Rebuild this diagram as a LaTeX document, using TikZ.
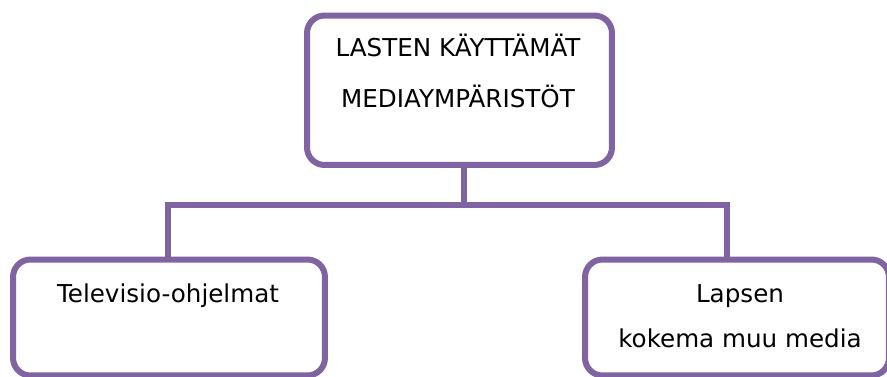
\documentclass[tikz,border=0pt]{standalone}
\usepackage{fontspec}
\setmainfont{DejaVu Sans}
\usetikzlibrary{positioning}
\definecolor{boxpurple}{RGB}{128,100,162}
\tikzset{box/.style={draw=boxpurple,line width=0.12cm,rounded corners=0.35cm,fill=white,inner sep=0pt}}
\tikzset{link/.style={draw=boxpurple,line width=0.12cm}}
\tikzset{l/.style={font=\fontsize{14}{28.5}\selectfont,align=center,inner sep=0pt}}

\begin{document}
\begin{tikzpicture}[x=0.02cm,y=-0.02cm]
  \useasboundingbox (0,0) rectangle (887,376);
  \node[box,minimum width=6.1cm,minimum height=2.99cm] (top) at (459.5,90.25) {};
  \node[box,minimum width=6.24cm,minimum height=2.32cm] (tv) at (169,317.5) {};
  \node[box,minimum width=6.08cm,minimum height=2.32cm] (media) at (737,317.5) {};
  \coordinate (split) at (463.5,205);
  \draw[link] (top.south -| split) -- (split);
  \draw[link] ([xshift=-0.03cm]tv.north) |- (split) -| ([xshift=-0.21cm]media.north);
  % base anchor sits on the last line
  \node[l,anchor=base] (topText) at (458,107) {LASTEN KÄYTTÄMÄT\\MEDIAYMPÄRISTÖT};
  \node[l,anchor=base] (tvText) at (168,302) {Televisio-ohjelmat};
  \node[l,anchor=base,font=\fontsize{14}{25.6}\selectfont] (mediaText) at (740,347) {Lapsen\\kokema muu media};
\end{tikzpicture}
\end{document}
